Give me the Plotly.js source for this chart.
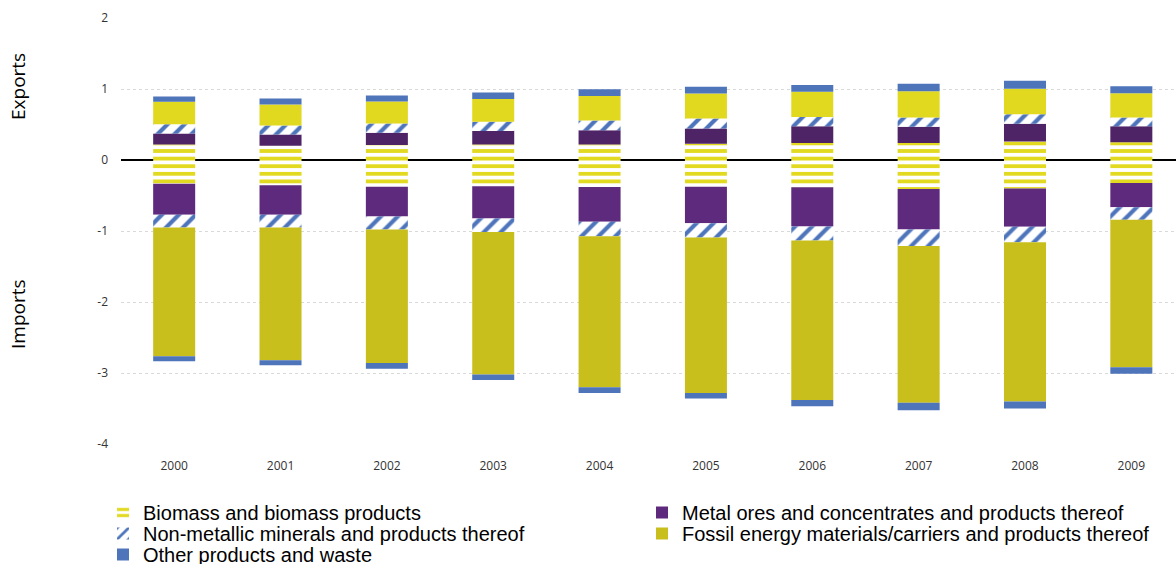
<!DOCTYPE html>
<html>
<head>
<meta charset="utf-8">
<script src="https://cdn.plot.ly/plotly-3.0.1.min.js"></script>
<style>html,body{margin:0;padding:0;background:#fff;}#chart{width:1176px;height:564px;}</style>
</head>
<body>
<div id="chart"></div>
<script>
const years = ['2000','2001','2002','2003','2004','2005','2006','2007','2008','2009'];
const seriesNames = ['Biomass and biomass products','Metal ores and concentrates and products thereof','Non-metallic minerals and products thereof','Fossil energy materials/carriers and products thereof','Other products and waste'];

// Exports (positive)
const expBiomass = [0.22,0.20,0.21,0.22,0.22,0.23,0.24,0.24,0.26,0.25];
const expMetal   = [0.155,0.16,0.175,0.19,0.20,0.215,0.235,0.23,0.25,0.225];
const expNonMet  = [0.13,0.125,0.13,0.13,0.135,0.14,0.13,0.13,0.135,0.125];
const expFossil  = [0.315,0.295,0.31,0.32,0.345,0.35,0.355,0.37,0.36,0.34];
const expOther   = [0.075,0.085,0.085,0.09,0.095,0.095,0.095,0.105,0.11,0.10];

// Imports (negative)
const impBiomass = [-0.335,-0.355,-0.375,-0.37,-0.38,-0.375,-0.385,-0.41,-0.40,-0.325];
const impMetal   = [-0.435,-0.415,-0.42,-0.455,-0.49,-0.515,-0.55,-0.57,-0.54,-0.34];
const impNonMet  = [-0.18,-0.18,-0.185,-0.19,-0.205,-0.20,-0.20,-0.23,-0.22,-0.175];
const impFossil  = [-1.815,-1.87,-1.88,-2.005,-2.125,-2.19,-2.245,-2.21,-2.24,-2.08];
const impOther   = [-0.07,-0.07,-0.08,-0.08,-0.08,-0.08,-0.09,-0.105,-0.10,-0.09];

const yTicks = [-4,-3,-2,-1,0,1,2];

const cBio = '#E2D921', cBlue = '#4E75BB';
const bioMarker = {color:'#ffffff', line:{width:0}, pattern:{shape:'-', fgcolor:cBio, bgcolor:'#ffffff', size:7.6, solidity:0.5, fillmode:'replace'}};
const nonMarker = {color:'#ffffff', line:{width:0}, pattern:{shape:'/', fgcolor:cBlue, bgcolor:'#ffffff', size:12, solidity:0.35, fillmode:'replace'}};

function bar(name, y, marker, legend, legendId){
  return {type:'bar', x:years, y:y, name:name, legendgroup:name, showlegend:legend,
          legend:legendId, marker:marker, hoverinfo:'skip'};
}

const traces = [
  bar(seriesNames[0], expBiomass, bioMarker, false, 'legend'),
  bar(seriesNames[0], impBiomass, bioMarker, true, 'legend'),
  bar(seriesNames[1], expMetal, {color:'#4F2467', line:{width:0}}, false, 'legend2'),
  bar(seriesNames[1], impMetal, {color:'#5E2A7E', line:{width:0}}, true, 'legend2'),
  bar(seriesNames[2], expNonMet, nonMarker, false, 'legend3'),
  bar(seriesNames[2], impNonMet, nonMarker, true, 'legend3'),
  bar(seriesNames[3], expFossil, {color:'#E1D820', line:{width:0}}, false, 'legend4'),
  bar(seriesNames[3], impFossil, {color:'#C8BF1D', line:{width:0}}, true, 'legend4'),
  bar(seriesNames[4], expOther, {color:'#4E74BA', line:{width:0}}, false, 'legend5'),
  bar(seriesNames[4], impOther, {color:'#4E74BA', line:{width:0}}, true, 'legend5')
];

const legFont = {family:'Liberation Sans', size:20, color:'#000000'};
function leg(textLeftPx, centerYPx){
  return {xref:'container', yref:'container', x:(textLeftPx-40)/1176, xanchor:'left',
          y:1-(centerYPx-19)/564, yanchor:'top', orientation:'v', font:legFont,
          itemwidth:30, bgcolor:'rgba(0,0,0,0)'};
}

const layout = {
  width:1176, height:564,
  margin:{l:121, r:0, t:18, b:120, autoexpand:false},
  paper_bgcolor:'#ffffff', plot_bgcolor:'#ffffff',
  barmode:'relative', bargap:0.605,
  showlegend:true,
  xaxis:{type:'category', range:[-0.5, 9.42], showgrid:false, zeroline:false, showline:false,
         ticks:'', tickfont:{family:'Open Sans', size:12, color:'#333333'}, ticklabelstandoff:13},
  yaxis:{range:[-4,2], tickvals:yTicks, ticktext:yTicks.map(String), showgrid:true,
         gridcolor:'#D9D9D9', griddash:'dot', gridwidth:1,
         zeroline:true, zerolinecolor:'#000000', zerolinewidth:2, showline:false,
         tickfont:{family:'Open Sans', size:12, color:'#333333'}, ticklabelstandoff:12},
  legend: leg(143, 512),
  legend2: leg(682, 512),
  legend3: leg(143, 533),
  legend4: leg(682, 533),
  legend5: leg(143, 554),
  annotations:[
    {text:'Exports', xref:'paper', yref:'paper', x:(18-121)/1055, y:1-(87-18)/426, showarrow:false,
     textangle:-90, font:{family:'Open Sans', size:19, color:'#000000'}, xanchor:'center', yanchor:'middle'},
    {text:'Imports', xref:'paper', yref:'paper', x:(18-121)/1055, y:1-(314-18)/426, showarrow:false,
     textangle:-90, font:{family:'Open Sans', size:19, color:'#000000'}, xanchor:'center', yanchor:'middle'}
  ]
};

Plotly.newPlot('chart', traces, layout, {staticPlot:true, displayModeBar:false});
</script>
</body>
</html>
